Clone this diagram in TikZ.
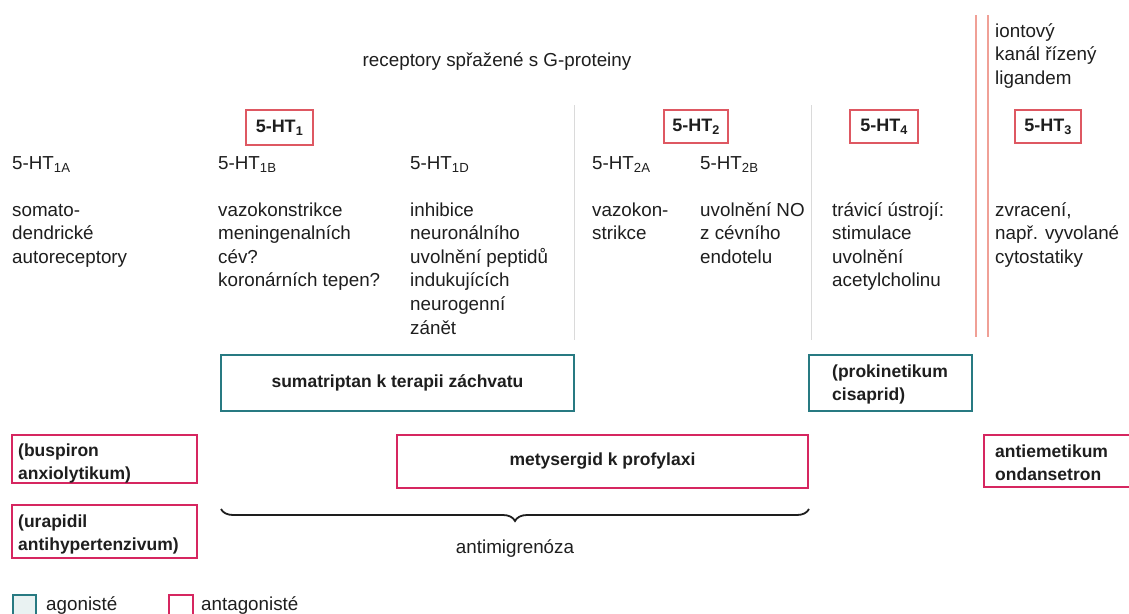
\documentclass[tikz,border=0pt]{standalone}
\usepackage{fontspec}
\setmainfont{Liberation Sans}
\usetikzlibrary{decorations.pathreplacing}
\definecolor{tealc}{RGB}{40,122,130}
\definecolor{crim}{RGB}{214,38,96}
\definecolor{rbox}{RGB}{222,88,98}
\definecolor{salmon}{RGB}{240,160,150}
\definecolor{ink}{RGB}{30,30,30}
\definecolor{sepc}{RGB}{218,218,218}
\newcommand\mylines[5]{%
  \foreach \t [count=\i] in {#5} {\node[#2] (#1-\i) at (#3, {#4+23.6*(\i-1)}) {\t};}}
\begin{document}
\begin{tikzpicture}[x=1pt,y=-1pt,
  txt/.style={font=\fontsize{18.8}{22}\selectfont, text=ink, inner sep=0pt, anchor=base west},
  btxt/.style={font=\fontsize{17.5}{21}\selectfont\bfseries, text=ink, inner sep=0pt, anchor=base west},
  agbox/.style={draw=tealc, line width=2.5pt, inner sep=0pt},
  anbox/.style={draw=crim, line width=2.5pt, inner sep=0pt},
  recbox/.style={draw=rbox, line width=2pt, inner sep=0pt, font=\fontsize{18}{21}\selectfont\bfseries, text=ink},
  vsep/.style={draw=sepc, line width=1pt},
  dsep/.style={draw=salmon, line width=2pt}
  ]
\path[use as bounding box, fill=white] (0,0) rectangle (1129,613);
\clip (0,0) rectangle (1129,613);

% separators
\draw[dsep] (976,15) -- (976,337);
\draw[dsep] (988,15) -- (988,337);
\draw[vsep] (574,105) -- (574,340);
\draw[vsep] (811,105) -- (811,340);

% headings
\node[txt, anchor=base] (title) at (497,66) {receptory spřažené s G-proteiny};
\mylines{ion}{txt}{995}{37}{iontový,kanál řízený,ligandem}

% receptor boxes
\node[recbox, minimum width=67pt, minimum height=35pt] (ht1) at (279.5,127.5) {5-HT\textsubscript{1}};
\node[recbox, minimum width=64pt, minimum height=33pt] (ht2) at (696,126.5) {5-HT\textsubscript{2}};
\node[recbox, minimum width=68pt, minimum height=33pt] (ht4) at (884,126.5) {5-HT\textsubscript{4}};
\node[recbox, minimum width=66pt, minimum height=33pt] (ht3) at (1048,126.5) {5-HT\textsubscript{3}};

% subtypes
\node[txt] (s1a) at (12,169) {5-HT\textsubscript{1A}};
\node[txt] (s1b) at (218,169) {5-HT\textsubscript{1B}};
\node[txt] (s1d) at (410,169) {5-HT\textsubscript{1D}};
\node[txt] (s2a) at (592,169) {5-HT\textsubscript{2A}};
\node[txt] (s2b) at (700,169) {5-HT\textsubscript{2B}};

% descriptions
\mylines{d1a}{txt}{12}{216}{somato-,dendrické,autoreceptory}
\mylines{d1b}{txt}{218}{216}{vazokonstrikce,meningenalních,cév?,koronárních tepen?}
\mylines{d1d}{txt}{410}{216}{inhibice,neuronálního,uvolnění peptidů,indukujících,neurogenní,zánět}
\mylines{d2a}{txt}{592}{216}{vazokon-,strikce}
\mylines{d2b}{txt}{700}{216}{uvolnění NO,z cévního,endotelu}
\mylines{d4}{txt}{832}{216}{trávicí ústrojí:,stimulace,uvolnění,acetylcholinu}
\mylines{d3}{txt}{995}{216}{{zvracení,},např. vyvolané,cytostatiky}

% agonists
\node[agbox, minimum width=353pt, minimum height=56pt,
      font=\fontsize{17.5}{21}\selectfont\bfseries, text=ink] (suma) at (397.5,383) {sumatriptan k terapii záchvatu};
\node[agbox, minimum width=163pt, minimum height=56pt] (prok) at (890.5,383) {};
\mylines{prokt}{btxt}{832}{377}{{(prokinetikum},{cisaprid)}}

% antagonists
\node[anbox, minimum width=185pt, minimum height=48pt] (busp) at (104.5,459) {};
\mylines{buspt}{btxt}{18}{456}{{(buspiron},{anxiolytikum)}}
\node[anbox, minimum width=185pt, minimum height=53pt] (urap) at (104.5,531.5) {};
\mylines{urapt}{btxt}{18}{527}{{(urapidil},{antihypertenzivum)}}
\node[anbox, minimum width=411pt, minimum height=53pt,
      font=\fontsize{17.5}{21}\selectfont\bfseries, text=ink] (mety) at (602.5,461.5) {metysergid k profylaxi};
\draw[crim, line width=2.5pt] (1140,435) -| (984,487) -- (1140,487);
\mylines{ondt}{btxt}{995}{457}{antiemetikum,ondansetron}

% brace
\coordinate (bl) at (221,509);
\coordinate (br) at (809,509);
\draw[ink, line width=1.8pt, decorate, decoration={brace, mirror, amplitude=12pt}] (bl) -- (br);
\node[txt, anchor=base] (anti) at (515,553) {antimigrenóza};

% legend
\node[draw=tealc, line width=1.5pt, fill=tealc!10, minimum width=23pt, minimum height=30pt, anchor=north west] (lgag) at (12,594) {};
\node[txt] (lgagt) at (46,610) {agonisté};
\node[draw=crim, line width=2pt, minimum width=24pt, minimum height=30pt, anchor=north west] (lgan) at (168,594) {};
\node[txt] (lgant) at (201,610) {antagonisté};
\end{tikzpicture}
\end{document}
